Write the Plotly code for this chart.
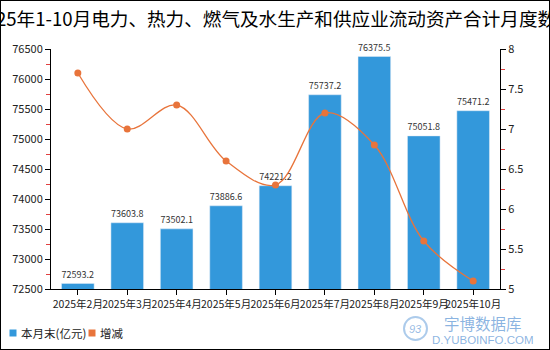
import plotly.graph_objects as go

months = ["2025年2月", "2025年3月", "2025年4月", "2025年5月", "2025年6月",
          "2025年7月", "2025年8月", "2025年9月", "2025年10月"]
month_end = [72593.2, 73603.8, 73502.1, 73886.6, 74221.2, 75737.2, 76375.5, 75051.8, 75471.2]
change = [7.7, 7.0, 7.3, 6.6, 6.3, 7.2, 6.8, 5.6, 5.1]
title_text = "2025年1-10月电力、热力、燃气及水生产和供应业流动资产合计月度数据"
bar_name = "本月末(亿元)"
line_name = "增减"

W, H = 550, 350
ML, MR, MT, MB = 51, 50, 49, 61
PW, PH = W - ML - MR, H - MT - MB

def px(x):
    return (x - ML) / PW

def py(y):
    return (H - MB - y) / PH

BLUE = "#3398db"
ORANGE = "#e8743b"
FONT = "Noto Sans CJK SC"
WM = "rgba(60,130,205,0.6)"

fig = go.Figure()
fig.add_trace(go.Bar(
    x=months, y=month_end, name=bar_name, marker_color=BLUE, width=0.66,
    text=[f"{v:.1f}" for v in month_end], textposition="outside",
    textfont=dict(size=11, color="#333333"), cliponaxis=False, showlegend=False,
))
fig.add_trace(go.Scatter(
    x=months, y=change, name=line_name, yaxis="y2", mode="lines+markers",
    line=dict(color=ORANGE, width=1.3, shape="spline", smoothing=1.0),
    marker=dict(color=ORANGE, size=7), showlegend=False,
))

# custom legend (squares + text) placed like the reference
legend_items = [(bar_name, BLUE, 13, 19), (line_name, ORANGE, 92, 98)]
shapes = [
    dict(type="rect", xref="paper", yref="paper", x0=px(0), x1=px(W), y0=py(H), y1=py(0),
         line=dict(color="#000000", width=2), layer="above"),
    dict(type="circle", xref="paper", yref="paper", x0=px(404), x1=px(427),
         y0=py(340), y1=py(317), line=dict(color="rgba(70,140,210,0.45)", width=2)),
]
annotations = []
for name, color, sx, tx in legend_items:
    shapes.append(dict(type="rect", xref="paper", yref="paper",
                       x0=px(sx - 3.5), x1=px(sx + 3.5), y0=py(336.5), y1=py(329.5),
                       fillcolor=color, line=dict(width=0)))
    annotations.append(dict(text=name, xref="paper", yref="paper", x=px(tx), y=py(333),
                            xanchor="left", yanchor="middle", showarrow=False,
                            font=dict(size=11.5, color="#222222", family=FONT)))

annotations += [
    dict(text="宇博数据库", xref="paper", yref="paper", x=px(483), y=py(323),
         xanchor="center", yanchor="middle", showarrow=False,
         font=dict(size=15.5, color=WM, family=FONT)),
    dict(text="D.YUBOINFO.COM", xref="paper", yref="paper", x=px(483), y=py(340),
         xanchor="center", yanchor="middle", showarrow=False,
         font=dict(size=11.5, color=WM, family="Liberation Sans")),
    dict(text="<i>93</i>", xref="paper", yref="paper", x=px(415.5), y=py(328.5),
         xanchor="center", yanchor="middle", showarrow=False,
         font=dict(size=11, color="rgba(60,130,205,0.55)", family="Liberation Sans")),
]

fig.update_layout(
    width=W, height=H,
    margin=dict(l=ML, r=MR, t=MT, b=MB, autoexpand=False),
    paper_bgcolor="white", plot_bgcolor="white", showlegend=False,
    font=dict(family=FONT, size=11, color="#333333"),
    title=dict(text=title_text, x=0.5, xanchor="center", y=1 - 19 / H, yanchor="middle",
               yref="container", font=dict(size=18.6, color="#000000", family=FONT)),
    xaxis=dict(showline=True, linecolor="#000000", linewidth=1, ticks="outside",
               tickcolor="#000000", ticklen=5, showgrid=False, tickangle=0,
               automargin=False, tickfont=dict(size=10.5, color="#222222")),
    yaxis=dict(range=[72500, 76500], dtick=500, tickformat="d", showline=True,
               linecolor="#000000", automargin=False,
               linewidth=1, ticks="outside", tickcolor="#000000", ticklen=5,
               showgrid=False, zeroline=False, tickfont=dict(size=11, color="#222222"),
               minor=dict(dtick=250, ticks="outside", tickcolor="#e04040", ticklen=4)),
    yaxis2=dict(range=[5, 8], dtick=0.5, overlaying="y", side="right", showline=True,
                linecolor="#000000", linewidth=1, ticks="outside", tickcolor="#000000",
                ticklen=5, showgrid=False, zeroline=False, automargin=False,
                tickfont=dict(size=11, color="#222222"),
                minor=dict(dtick=0.25, ticks="outside", tickcolor="#e04040", ticklen=4)),
    bargap=0.34,
    shapes=shapes,
    annotations=annotations,
)

fig.write_html("out.html")
